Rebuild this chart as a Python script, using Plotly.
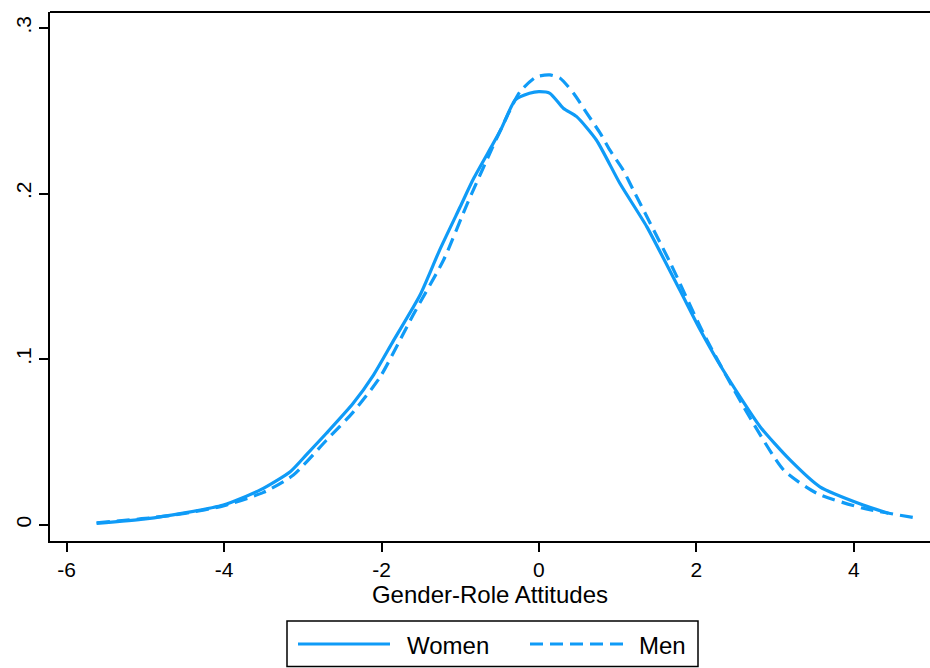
import plotly.graph_objects as go

# ---- data ----
women_x = [-5.62, -5.0, -4.52, -4.01, -3.54, -3.16, -2.95, -2.70, -2.36, -2.10, -1.85, -1.51, -1.26,
           -1.0, -0.83, -0.49, -0.30, -0.12, 0.0, 0.14, 0.31, 0.48, 0.73, 1.03, 1.37, 1.79,
           2.05, 2.34, 2.81, 3.19, 3.57, 4.12, 4.44]
women_y = [0.0008, 0.0035, 0.007, 0.0119, 0.021, 0.032, 0.0425, 0.0552, 0.0733, 0.0905, 0.1110, 0.1387, 0.166,
           0.192, 0.209, 0.238, 0.2565, 0.2605, 0.2615, 0.2605, 0.2515, 0.2464, 0.2323, 0.206, 0.18, 0.1417,
           0.1176, 0.0934, 0.0592, 0.0391, 0.0229, 0.0119, 0.0069]

men_x = [-5.62, -5.0, -4.5, -4.0, -3.5, -3.12, -2.70, -2.36, -2.02, -1.60, -1.21, -0.90, -0.50,
         -0.24, -0.03, 0.14, 0.27, 0.44, 0.61, 0.78, 0.90, 1.07, 1.20, 1.67, 2.09, 2.60, 3.11,
         3.53, 4.12, 4.82]
men_y = [0.0012, 0.0038, 0.0068, 0.0115, 0.0195, 0.0300, 0.051, 0.068, 0.0890, 0.1265, 0.160, 0.195, 0.237,
         0.2615, 0.2705, 0.2716, 0.2696, 0.2605, 0.2484, 0.2363, 0.2263, 0.2142, 0.202, 0.158, 0.1156, 0.0713, 0.033,
         0.019, 0.0099, 0.0039]

x_ticks = [-6, -4, -2, 0, 2, 4]
x_tick_labels = ["-6", "-4", "-2", "0", "2", "4"]
y_ticks = [0, 0.1, 0.2, 0.3]
y_tick_labels = ["0", ".1", ".2", ".3"]
series_names = ["Women", "Men"]
x_title = "Gender-Role Attitudes"

COLOR = "#0f9bf7"
FONT = "Liberation Sans, Arial, Helvetica, sans-serif"
DASH = "13px,7px"

fig = go.Figure()
fig.add_trace(go.Scatter(x=women_x, y=women_y, mode="lines", name=series_names[0],
                         line=dict(color=COLOR, width=3.2, shape="spline", smoothing=0.6),
                         showlegend=False))
fig.add_trace(go.Scatter(x=men_x, y=men_y, mode="lines", name=series_names[1],
                         line=dict(color=COLOR, width=3.2, dash=DASH, shape="spline", smoothing=0.6),
                         showlegend=False))

W, H = 930, 668
L, R, T, B = 50, 0, 12, 127
pw = W - L - R
ph = H - T - B

def px2paper_x(px):
    return (px - L) / pw

def py2paper_y(py):
    return (H - B - py) / ph

# custom legend box (Stata-style)
shapes = [
    dict(type="rect", xref="paper", yref="paper",
         x0=px2paper_x(287), x1=px2paper_x(698), y0=py2paper_y(621), y1=py2paper_y(666.5),
         line=dict(color="black", width=1.5), fillcolor="white"),
    dict(type="line", xref="paper", yref="paper",
         x0=px2paper_x(298), x1=px2paper_x(390), y0=py2paper_y(644), y1=py2paper_y(644),
         line=dict(color=COLOR, width=3.2)),
    dict(type="line", xref="paper", yref="paper",
         x0=px2paper_x(530), x1=px2paper_x(623), y0=py2paper_y(644), y1=py2paper_y(644),
         line=dict(color=COLOR, width=3.2, dash=DASH)),
    # top border line of the plot region
    dict(type="line", xref="paper", yref="paper", x0=0, x1=1, y0=1, y1=1,
         line=dict(color="black", width=2)),
]
annotations = [
    dict(xref="paper", yref="paper", x=px2paper_x(405), y=py2paper_y(645),
         text=series_names[0], showarrow=False, xanchor="left", yanchor="middle",
         font=dict(family=FONT, size=24, color="black")),
    dict(xref="paper", yref="paper", x=px2paper_x(637), y=py2paper_y(645),
         text=series_names[1], showarrow=False, xanchor="left", yanchor="middle",
         font=dict(family=FONT, size=24, color="black")),
]

fig.update_layout(
    width=W, height=H,
    margin=dict(l=L, r=R, t=T, b=B, pad=0),
    paper_bgcolor="white", plot_bgcolor="white",
    font=dict(family=FONT, color="black"),
    shapes=shapes, annotations=annotations,
    xaxis=dict(range=[-6.212, 4.969], tickmode="array", tickvals=x_ticks, ticktext=x_tick_labels,
               ticks="outside", ticklen=9, tickwidth=1.5, tickcolor="black",
               showline=True, linecolor="black", linewidth=2, mirror=False,
               showgrid=False, zeroline=False,
               tickfont=dict(size=21, family=FONT),
               title=dict(text=x_title, font=dict(size=24, family=FONT), standoff=5)),
    yaxis=dict(range=[-0.00984, 0.3096], tickmode="array", tickvals=y_ticks, ticktext=y_tick_labels,
               ticks="outside", ticklen=9, tickwidth=1.5, tickcolor="black",
               showline=True, linecolor="black", linewidth=2,
               showgrid=False, zeroline=False, tickangle=-90,
               tickfont=dict(size=21, family=FONT)),
)

fig.write_html("out.html", config={"displayModeBar": False})

# remove the default browser body margin so the figure sits at the page origin
with open("out.html", "r", encoding="utf-8") as f:
    html = f.read()
html = html.replace("<body>", '<body style="margin:0;padding:0;overflow:hidden">', 1)
html = html.replace("<head>", '<head><style>html,body{margin:0;padding:0;}</style>', 1)
with open("out.html", "w", encoding="utf-8") as f:
    f.write(html)
